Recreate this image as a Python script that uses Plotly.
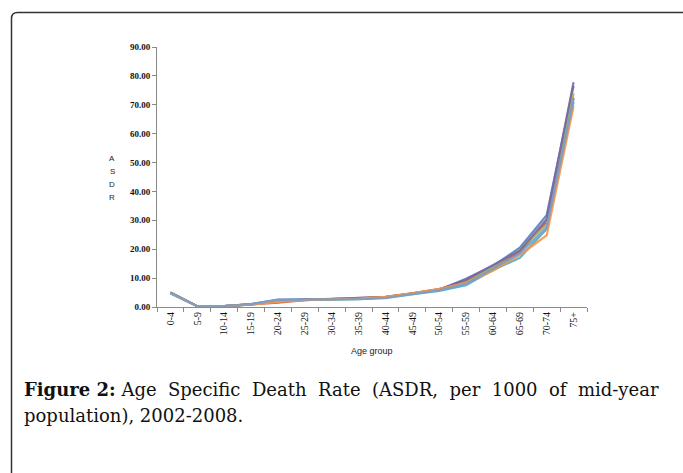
import plotly.graph_objects as go

age_groups = ["0-4", "5-9", "10-14", "15-19", "20-24", "25-29", "30-34", "35-39",
              "40-44", "45-49", "50-54", "55-59", "60-64", "65-69", "70-74", "75+"]

years = ["2002", "2003", "2004", "2005", "2006", "2007", "2008"]

asdr_2002 = [5.0, 0.3, 0.3, 1.0, 2.6, 2.6, 2.6, 2.8, 3.3, 4.6, 6.0, 9.8, 14.2, 20.5, 31.8, 76.5]
asdr_2003 = [4.9, 0.3, 0.3, 0.8, 1.5, 2.4, 2.7, 3.0, 3.5, 4.7, 6.2, 9.0, 13.5, 19.0, 29.5, 72.5]
asdr_2004 = [4.8, 0.3, 0.3, 0.9, 2.0, 2.5, 2.7, 2.9, 3.4, 4.8, 6.1, 8.5, 13.8, 19.8, 28.5, 74.0]
asdr_2005 = [4.9, 0.3, 0.3, 0.9, 2.2, 2.5, 2.7, 2.9, 3.4, 4.6, 6.0, 9.5, 14.5, 19.5, 30.5, 77.8]
asdr_2006 = [4.7, 0.3, 0.3, 0.9, 2.3, 2.5, 2.6, 2.7, 3.2, 4.4, 5.6, 7.5, 12.8, 17.0, 27.0, 71.0]
asdr_2007 = [4.8, 0.3, 0.3, 0.8, 1.8, 2.4, 2.7, 2.9, 3.5, 4.7, 6.3, 8.3, 12.5, 18.0, 24.8, 69.5]
asdr_2008 = [5.0, 0.3, 0.3, 1.0, 2.5, 2.6, 2.6, 2.7, 3.1, 4.5, 5.8, 8.0, 13.2, 18.5, 27.5, 72.0]

series = [asdr_2002, asdr_2003, asdr_2004, asdr_2005, asdr_2006, asdr_2007, asdr_2008]
colors = ["#4F81BD", "#C0504D", "#9BBB59", "#8064A2", "#4BACC6", "#F79646", "#7E9DC8"]

y_ticks = [0, 10, 20, 30, 40, 50, 60, 70, 80, 90]
y_title_letters = ["A", "S", "D", "R"]
x_title = "Age group"
caption_bold = "Figure 2:"
caption_line1 = "Age Specific Death Rate (ASDR, per 1000 of mid-year"
caption_line2 = "population), 2002-2008."

W, H = 683, 473
L, R, T, B = 157, 587, 47, 307


def px(x):
    return (x - L) / (R - L)


def py(y):
    return (B - y) / (B - T)


fig = go.Figure()
for yr, vals, c in zip(years, series, colors):
    fig.add_trace(go.Scatter(x=age_groups, y=vals, mode="lines", name=yr,
                             line=dict(color=c, width=2.2), opacity=0.9))

annotations = []
for i, letter in enumerate(y_title_letters):
    annotations.append(dict(text=letter, x=px(112), y=py(158 + i * 13), xref="paper", yref="paper",
                            showarrow=False, xanchor="center", yanchor="middle",
                            font=dict(family="Liberation Sans", size=8, color="#222")))
annotations.append(dict(text=x_title, x=px(372), y=py(351), xref="paper", yref="paper",
                        showarrow=False, xanchor="center", yanchor="middle",
                        font=dict(family="Liberation Sans", size=9, color="#222")))

sp = " \u00a0"
line1 = "<b>" + caption_bold + "</b>" + " " + sp.join(caption_line1.split(" "))
annotations.append(dict(text=line1, x=px(22), y=py(389), xref="paper", yref="paper",
                        showarrow=False, xanchor="left", yanchor="middle",
                        font=dict(family="DejaVu Serif", size=18, color="#111")))
annotations.append(dict(text=caption_line2, x=px(22), y=py(415), xref="paper", yref="paper",
                        showarrow=False, xanchor="left", yanchor="middle",
                        font=dict(family="DejaVu Serif", size=18, color="#111")))

r = 6
x0, y0 = 11.5, 12.5
path = (f"M {px(x0)},{py(H + 5)} L {px(x0)},{py(y0 + r)} "
        f"Q {px(x0)},{py(y0)} {px(x0 + r)},{py(y0)} L {px(W + 5)},{py(y0)}")

fig.update_layout(
    width=W, height=H,
    margin=dict(l=L, r=W - R, t=T, b=H - B),
    paper_bgcolor="white", plot_bgcolor="white",
    showlegend=False,
    annotations=annotations,
    shapes=[dict(type="path", path=path, xref="paper", yref="paper",
                 line=dict(color="#333", width=1.5))],
    xaxis=dict(type="category", range=[-0.5, 15.5], showgrid=False, showline=True,
               linecolor="#8a8a8a", linewidth=1, ticks="outside", tickson="boundaries",
               ticklen=4, tickcolor="#8a8a8a", tickangle=-90,
               tickfont=dict(family="Liberation Serif", size=10, color="#111"),
               zeroline=False),
    yaxis=dict(range=[0, 90], tickvals=y_ticks, tickformat=".2f", showgrid=False,
               showline=True, linecolor="#8a8a8a", linewidth=1, ticks="outside",
               ticklen=4, tickcolor="#8a8a8a",
               tickfont=dict(family="Liberation Serif", size=9, color="#111", weight="bold"),
               zeroline=False),
)

fig.write_html("out.html")
